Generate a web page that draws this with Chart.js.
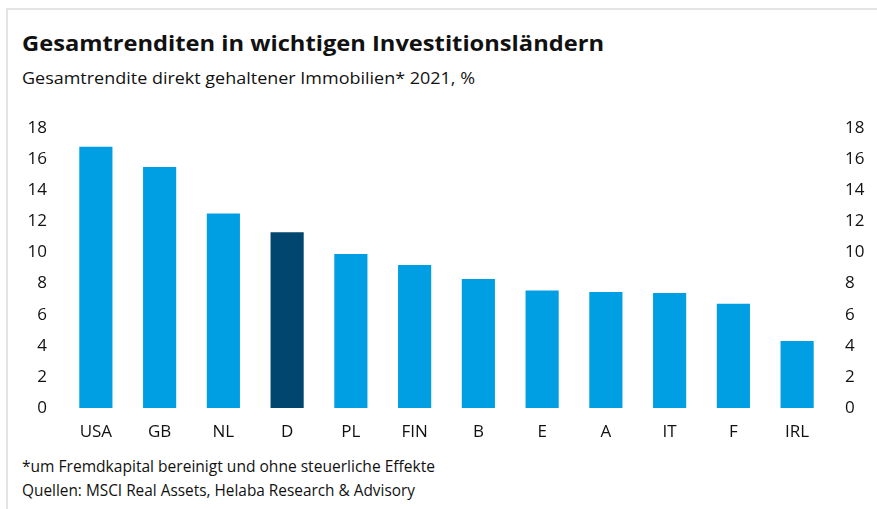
<!DOCTYPE html>
<html>
<head>
<meta charset="utf-8">
<script src="https://cdn.jsdelivr.net/npm/chart.js@4"></script>
<style>
  html, body { margin: 0; padding: 0; background: #fff; }
  body { width: 877px; height: 509px; position: relative; overflow: hidden; }
  .frame { position: absolute; left: 6px; top: 8px; width: 900px; height: 600px;
           border-left: 2px solid #e4e4e4; border-top: 2px solid #e4e4e4; }
  .txt { position: absolute; left: 22px; white-space: nowrap; line-height: 1;
         font-family: "Open Sans", sans-serif; color: #111; transform-origin: 0 0; }
  #title { top: 31px; font-size: 22px; font-weight: 700; }
  #subtitle { top: 69px; font-size: 17px; }
  #note1 { top: 458px; font-size: 16px; }
  #note2 { top: 482px; font-size: 16px; }
  #wrap { position: absolute; left: 0; top: 0; width: 877px; height: 509px; }
</style>
</head>
<body>
<div class="frame"></div>
<div class="txt" id="title" data-w="582">Gesamtrenditen in wichtigen Investitionsländern</div>
<div class="txt" id="subtitle" data-w="453">Gesamtrendite direkt gehaltener Immobilien* 2021, %</div>
<div class="txt" id="note1" data-w="413">*um Fremdkapital bereinigt und ohne steuerliche Effekte</div>
<div class="txt" id="note2" data-w="393">Quellen: MSCI Real Assets, Helaba Research &amp; Advisory</div>
<div id="wrap"><canvas id="chart"></canvas></div>
<script>
// data
const countries = ["USA", "GB", "NL", "D", "PL", "FIN", "B", "E", "A", "IT", "F", "IRL"];
const totalReturn = [16.8, 15.5, 12.5, 11.3, 9.9, 9.2, 8.3, 7.55, 7.45, 7.4, 6.7, 4.3];
const highlight = "D";
const yMin = 0, yMax = 18, yStep = 2;

const lightBlue = "#009fe3";
const darkBlue = "#00466f";

// squeeze the html text lines to the widths of the narrow original font
document.querySelectorAll(".txt").forEach(el => {
  const w = el.getBoundingClientRect().width;
  el.style.transform = `scaleX(${el.dataset.w / w})`;
});

const tickFont = { family: "Open Sans", size: 17 };
const tickColor = "#111";

new Chart(document.getElementById("chart"), {
  type: "bar",
  data: {
    labels: countries,
    datasets: [{
      data: totalReturn,
      backgroundColor: countries.map(c => c === highlight ? darkBlue : lightBlue),
      barPercentage: 0.52,
      categoryPercentage: 1
    }]
  },
  options: {
    responsive: true,
    maintainAspectRatio: false,
    animation: false,
    layout: { padding: { top: 128, bottom: 0, left: 0, right: 0 } },
    plugins: { legend: { display: false }, tooltip: { enabled: false } },
    scales: {
      x: {
        grid: { display: false, drawTicks: false },
        border: { display: false },
        ticks: { font: tickFont, color: tickColor, padding: 14 },
        afterFit: s => { s.height = 101; }
      },
      y: {
        position: "left",
        min: yMin, max: yMax,
        grid: { display: false, drawTicks: false },
        border: { display: false },
        ticks: { stepSize: yStep, font: tickFont, color: tickColor, padding: 17 },
        afterFit: s => { s.width = 64; }
      },
      y2: {
        position: "right",
        min: yMin, max: yMax,
        grid: { display: false, drawTicks: false },
        border: { display: false },
        ticks: { stepSize: yStep, font: tickFont, color: tickColor, padding: 16 },
        afterFit: s => { s.width = 48; }
      }
    }
  }
});
</script>
</body>
</html>
